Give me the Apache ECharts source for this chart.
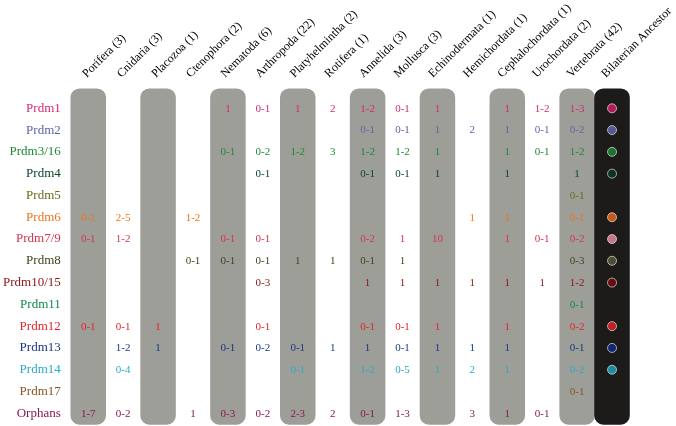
<!DOCTYPE html>
<html><head><meta charset="utf-8">
<script src="https://cdn.jsdelivr.net/npm/echarts@6/dist/echarts.min.js"></script>
<style>html,body{margin:0;padding:0;background:#fff}#c{width:676px;height:426px}</style>
</head><body><div id="c"></div>
<script>
const taxa = ['Porifera (3)','Cnidaria (3)','Placozoa (1)','Ctenophora (2)','Nematoda (6)','Arthropoda (22)','Platyhelmintha (2)','Rotifera (1)','Annelida (3)','Mollusca (3)','Echinodermata (1)','Hemichordata (1)','Cephalochordata (1)','Urochordata (2)','Vertebrata (42)','Bilaterian Ancestor'];
const genes = ['Prdm1','Prdm2','Prdm3/16','Prdm4','Prdm5','Prdm6','Prdm7/9','Prdm8','Prdm10/15','Prdm11','Prdm12','Prdm13','Prdm14','Prdm17','Orphans'];

// counts per taxon (Porifera ... Vertebrata)
const prdm1    = ['','','','','1','0-1','1','2','1-2','0-1','1','','1','1-2','1-3'];
const prdm2    = ['','','','','','','','','0-1','0-1','1','2','1','0-1','0-2'];
const prdm3_16 = ['','','','','0-1','0-2','1-2','3','1-2','1-2','1','','1','0-1','1-2'];
const prdm4    = ['','','','','','0-1','','','0-1','0-1','1','','1','','1'];
const prdm5    = ['','','','','','','','','','','','','','','0-1'];
const prdm6    = ['0-1','2-5','','1-2','','','','','','','','1','1','','0-1'];
const prdm7_9  = ['0-1','1-2','','','0-1','0-1','','','0-2','1','10','','1','0-1','0-2'];
const prdm8    = ['','','','0-1','0-1','0-1','1','1','0-1','1','','','','','0-3'];
const prdm10_15= ['','','','','','0-3','','','1','1','1','1','1','1','1-2'];
const prdm11   = ['','','','','','','','','','','','','','','0-1'];
const prdm12   = ['0-1','0-1','1','','','0-1','','','0-1','0-1','1','','1','','0-2'];
const prdm13   = ['','1-2','1','','0-1','0-2','0-1','1','1','0-1','1','1','1','','0-1'];
const prdm14   = ['','0-4','','','','','0-1','','1-2','0-5','1','2','1','','0-2'];
const prdm17   = ['','','','','','','','','','','','','','','0-1'];
const orphans  = ['1-7','0-2','','1','0-3','0-2','2-3','2','0-1','1-3','','3','1','0-1',''];
const counts = [prdm1,prdm2,prdm3_16,prdm4,prdm5,prdm6,prdm7_9,prdm8,prdm10_15,prdm11,prdm12,prdm13,prdm14,prdm17,orphans];

// presence in the bilaterian ancestor (1 = dot)
const ancestor = [1,1,1,1,0,1,1,1,1,0,1,1,1,0,0];

const shadedTaxa = ['Porifera (3)','Placozoa (1)','Nematoda (6)','Platyhelmintha (2)','Annelida (3)','Echinodermata (1)','Cephalochordata (1)','Vertebrata (42)'];
const ancestorTaxon = 'Bilaterian Ancestor';

// styles
const textColors = ['#d42a76','#5f63a8','#1d8a35','#0b4528','#6a6a1c','#e8761e','#d6344e','#44441e','#8a1414','#0f8a4c','#e42428','#183886','#28aac8','#8c5424','#8a1850'];
const dotColors  = ['#d81f6b','#6268b0','#1b8a35','#083a1e','#6a6a1c','#ec6a1a','#ee90a0','#5b5b3a','#7a0a10','#0f8a4c','#e8202a','#0e2c88','#1fa6c4','#8c5424','#8a1850'];
const SERIF = "'Liberation Serif','Times New Roman',serif";

const cells = [];
counts.forEach((row, r) => row.forEach((v, c) => { if (v !== '') cells.push([c, r, v]); }));
const dots = [];
ancestor.forEach((a, r) => { if (a) dots.push({value:[taxa.indexOf(ancestorTaxon), r], itemStyle:{color: dotColors[r]}}); });

function colRender(color){
  return function(params, api){
    const idx = api.value(0);
    const top = api.coord([idx, 0]);
    const bot = api.coord([idx, genes.length - 1]);
    const sz = api.size([1, 1]);
    const w = sz[0] + 0.6, h = sz[1];
    const y0 = top[1] - h/2 - 9, y1 = bot[1] + h/2 + 0.5;
    return {type:'rect', shape:{x: top[0] - w/2, y: y0, width: w, height: y1 - y0, r: 9}, style:{fill: color}};
  };
}

const chart = echarts.init(document.getElementById('c'), null, {renderer:'canvas'});
chart.setOption({
  animation: false,
  grid: [
    {left: 70.2, width: 559.3, top: 97.4, height: 326.8},
    {left: 71.5, width: 559.3, top: 79, height: 1}
  ],
  xAxis: [
    {type:'category', data: taxa, gridIndex: 0, show: false},
    {type:'category', data: taxa, gridIndex: 1, position:'top',
     axisLine:{show:false}, axisTick:{show:false},
     axisLabel:{interval:0, rotate:45, align:'left', verticalAlign:'bottom', margin:0, color:'#000', fontSize:12, fontFamily:SERIF}}
  ],
  yAxis: [
    {type:'category', data: genes, inverse: true, gridIndex: 0,
     axisLine:{show:false}, axisTick:{show:false}, splitLine:{show:false},
     axisLabel:{margin:10, fontSize:13, fontFamily:SERIF, color:(v, i) => textColors[i]}},
    {type:'value', gridIndex: 1, show: false}
  ],
  series: [
    {type:'custom', xAxisIndex:0, yAxisIndex:0, renderItem: colRender('#9e9e99'),
     data: shadedTaxa.map(t => [taxa.indexOf(t), 0]), silent:true, z:1},
    {type:'custom', xAxisIndex:0, yAxisIndex:0, renderItem: colRender('#1d1a1a'),
     data: [[taxa.indexOf(ancestorTaxon), 0]], silent:true, z:2},
    {type:'custom', xAxisIndex:0, yAxisIndex:0, z:3, silent:true,
     data: cells,
     renderItem: function(params, api){
       const pt = api.coord([api.value(0), api.value(1)]);
       const r = api.value(1);
       return {type:'text', x: pt[0], y: pt[1] + 0.5,
               style:{text: cells[params.dataIndex][2], fill: textColors[r], font: '11px ' + SERIF, align:'center', verticalAlign:'middle'}};
     }},
    {type:'scatter', xAxisIndex:0, yAxisIndex:0, z:4, symbolSize: 9, data: dots,
     itemStyle:{borderColor:'rgba(255,255,255,0.75)', borderWidth:1}}
  ]
});
</script></body></html>
